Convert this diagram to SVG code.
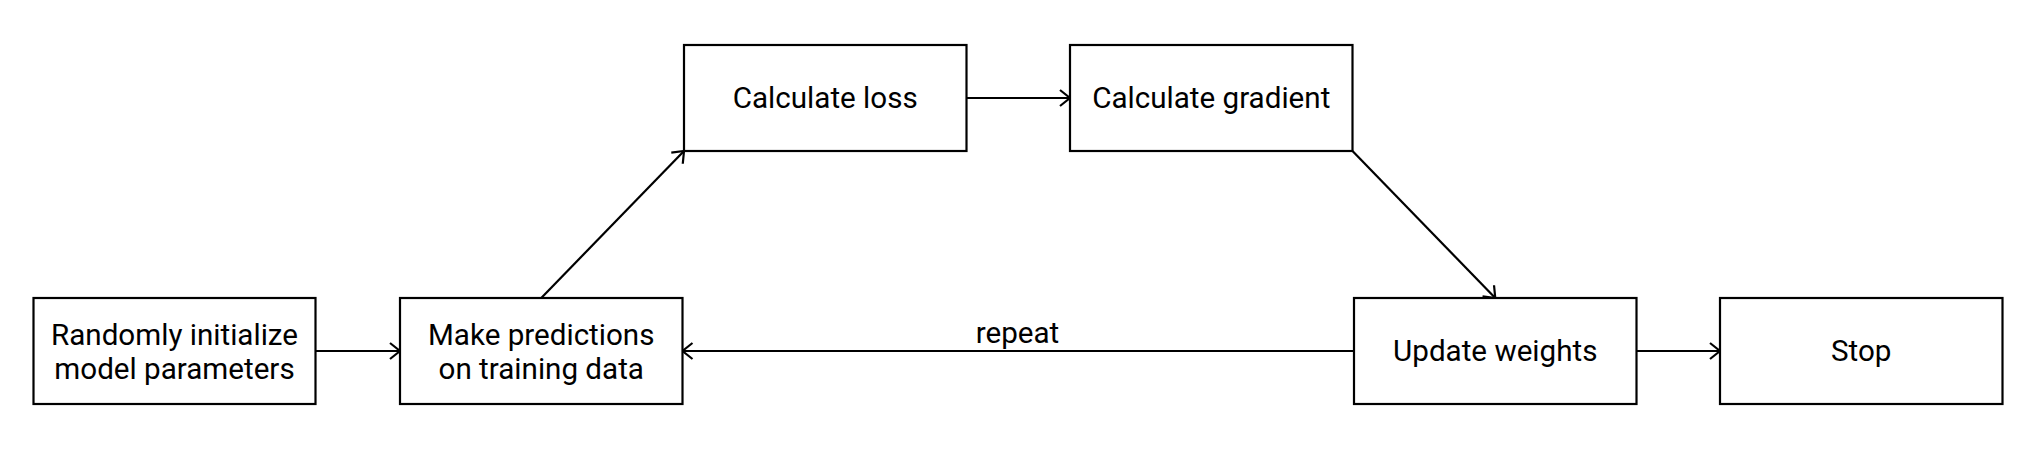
<svg xmlns="http://www.w3.org/2000/svg" width="2038" height="464" viewBox="0 0 2038 464">
<style>
.box{fill:#fff;stroke:#000;stroke-width:2.2}
.lbl{font-family:Roboto,"Liberation Sans",sans-serif;font-size:29.6px;fill:#000;text-anchor:middle}
.edge{fill:none;stroke:#000;stroke-width:2.2}
</style>
<defs>
<marker id="arr" markerUnits="userSpaceOnUse" markerWidth="24" markerHeight="24" viewBox="-12 -12 24 24" refX="0" refY="0" orient="auto">
<path d="M-10,-8 L0,0 L-10,8" fill="none" stroke="#000" stroke-width="2.2"/>
</marker>
</defs>
<rect width="2038" height="464" fill="#fff"/>
<g id="connectors">
<line class="edge" x1="315.5" y1="351" x2="400" y2="351" marker-end="url(#arr)"/>
<line class="edge" x1="541.25" y1="298" x2="684" y2="151" marker-end="url(#arr)"/>
<line class="edge" x1="966.5" y1="98" x2="1070" y2="98" marker-end="url(#arr)"/>
<line class="edge" x1="1352.5" y1="151" x2="1495.25" y2="298" marker-end="url(#arr)"/>
<line class="edge" x1="1354" y1="351" x2="682.5" y2="351" marker-end="url(#arr)"/>
<line class="edge" x1="1636.5" y1="351" x2="1720" y2="351" marker-end="url(#arr)"/>
<text class="lbl" x="1017.5" y="343">repeat</text>
</g>
<g id="n1">
<rect class="box" x="33.5" y="298" width="282" height="106"/>
<text class="lbl" x="174.5" y="344.5">Randomly initialize<tspan x="174.5" dy="34">model parameters</tspan></text>
</g>
<g id="n2">
<rect class="box" x="400" y="298" width="282.5" height="106"/>
<text class="lbl" x="541.25" y="344.5">Make predictions<tspan x="541.25" dy="34">on training data</tspan></text>
</g>
<g id="n3">
<rect class="box" x="684" y="45" width="282.5" height="106"/>
<text class="lbl" x="825.25" y="108">Calculate loss</text>
</g>
<g id="n4">
<rect class="box" x="1070" y="45" width="282.5" height="106"/>
<text class="lbl" x="1211.25" y="108">Calculate gradient</text>
</g>
<g id="n5">
<rect class="box" x="1354" y="298" width="282.5" height="106"/>
<text class="lbl" x="1495.25" y="361">Update weights</text>
</g>
<g id="n6">
<rect class="box" x="1720" y="298" width="282.5" height="106"/>
<text class="lbl" x="1861.25" y="361">Stop</text>
</g>
</svg>
